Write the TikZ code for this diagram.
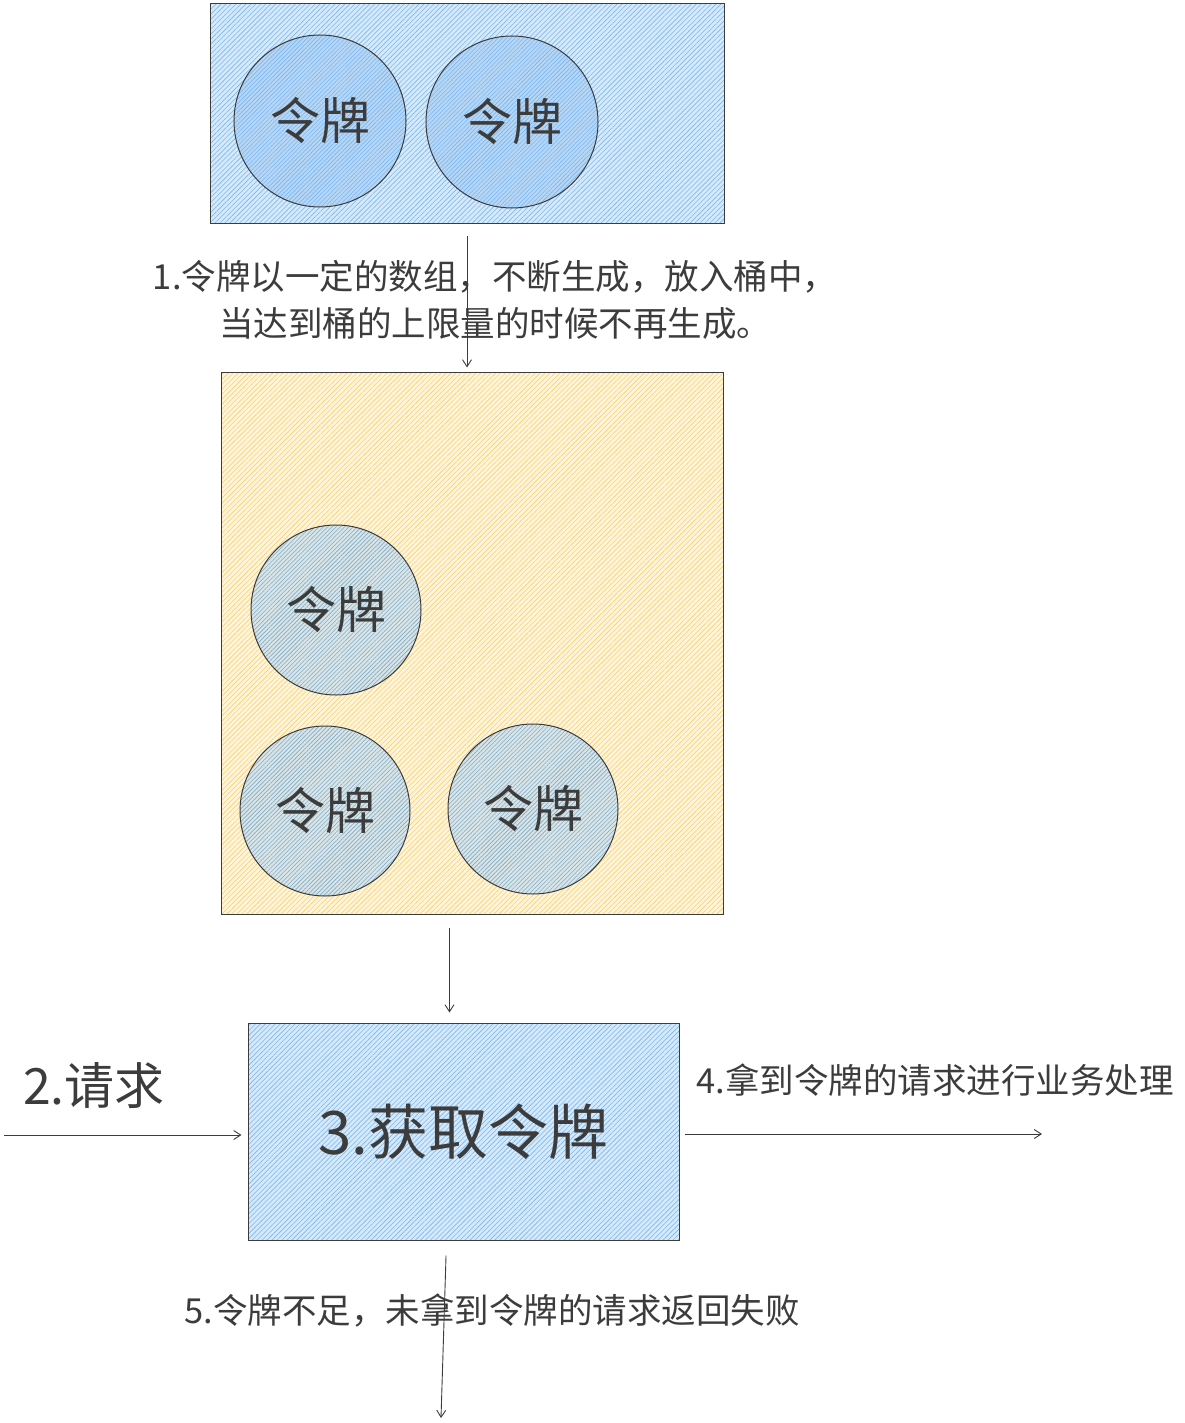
\documentclass[tikz,border=0pt]{standalone}
\usepackage{fontspec}
\setmainfont{Noto Sans CJK SC}
\usepackage{tikz}
\usetikzlibrary{positioning,arrows.meta,patterns.meta}

\definecolor{boxblue}{RGB}{212,233,250}
\definecolor{hatchblue}{RGB}{125,182,238}
\definecolor{tokenblue}{RGB}{182,214,245}
\definecolor{boxyellow}{RGB}{255,245,218}
\definecolor{hatchyellow}{RGB}{252,208,115}
\definecolor{tokengrey}{RGB}{216,229,232}
\definecolor{hatchgrey}{RGB}{135,170,190}
\definecolor{inkgrey}{RGB}{60,60,60}

\newcommand\tokensize{\fontsize{50}{60}\selectfont}
\newcommand\labelsize{\fontsize{34.5}{47}\selectfont}
\newcommand\reqsize{\fontsize{50}{60}\selectfont}
\newcommand\bigsize{\fontsize{60}{72}\selectfont}

\begin{document}
\begin{tikzpicture}[x=1pt, y=-1pt, >={Straight Barb[length=7pt,width=9pt]},
      every node/.append style={text=inkgrey, inner sep=0pt},
      bluebox/.style={draw=inkgrey, line width=1pt, preaction={fill=boxblue},
        pattern={Lines[angle=45,distance=3.5pt,line width=0.6pt]}, pattern color=hatchblue},
      yellowbox/.style={draw=inkgrey, line width=1pt, preaction={fill=boxyellow},
        pattern={Lines[angle=45,distance=3.5pt,line width=0.6pt]}, pattern color=hatchyellow},
      bluetoken/.style={circle, draw=inkgrey, line width=1pt, minimum size=172pt, font=\tokensize,
        preaction={fill=tokenblue}, pattern={Lines[angle=45,distance=3pt,line width=0.6pt]}, pattern color=hatchblue},
      greytoken/.style={circle, draw=inkgrey, line width=1pt, minimum size=170pt, font=\tokensize,
        preaction={fill=tokengrey}, pattern={Lines[angle=45,distance=3pt,line width=0.6pt]}, pattern color=hatchgrey},
      link/.style={->, draw=inkgrey, line width=0.9pt}]
    \useasboundingbox (0,0) rectangle (1184,1423);

    % token source with two tokens
    \node (source) [bluebox, minimum width=514pt, minimum height=220pt] at (467,114) {};
    \node (tokenA) [bluetoken] at (320,121) {令牌};
    \node (tokenB) [bluetoken] at (512,122) {令牌};

    % bucket
    \node (bucket) [yellowbox, minimum width=502pt, minimum height=542pt] at (472,643) {};
    \node (tokenC) [greytoken] at (336,610) {令牌};
    \node (tokenD) [greytoken] at (325,811) {令牌};
    \node (tokenE) [greytoken] at (533,809) {令牌};

    \node (gettoken) [bluebox, minimum width=431pt, minimum height=217pt, font=\bigsize]
      at (463.5,1131.5) {3.获取令牌};

    \node (produce) [align=center, font=\labelsize] at (495,300)
      {1.令牌以一定的数组，不断生成，放入桶中，\\当达到桶的上限量的时候不再生成。};
    \node (request) [font=\reqsize] at (94,1086) {2.请求};
    \node (process) [font=\labelsize] at (935,1080) {4.拿到令牌的请求进行业务处理};
    \node (reject) [font=\labelsize] at (492,1310) {5.令牌不足，未拿到令牌的请求返回失败};

    \coordinate (reqin) at (4,1135);
    \coordinate (done) at (1042,1134);
    \coordinate (fail) at (441,1418);

    \draw[link, shorten <=12pt, shorten >=4pt] (source.south) -- (source.south |- bucket.north);
    \draw[link, shorten <=13pt, shorten >=10pt] ([xshift=-14pt]gettoken.north |- bucket.south) -- ([xshift=-14pt]gettoken.north);
    \draw[link, shorten >=6pt] (reqin) -- (reqin -| gettoken.west);
    \draw[link, shorten <=5pt] (gettoken.east |- done) -- (done);
    \draw[link, shorten <=15pt] ([xshift=-17pt]gettoken.south) -- (fail);
  \end{tikzpicture}
\end{document}
